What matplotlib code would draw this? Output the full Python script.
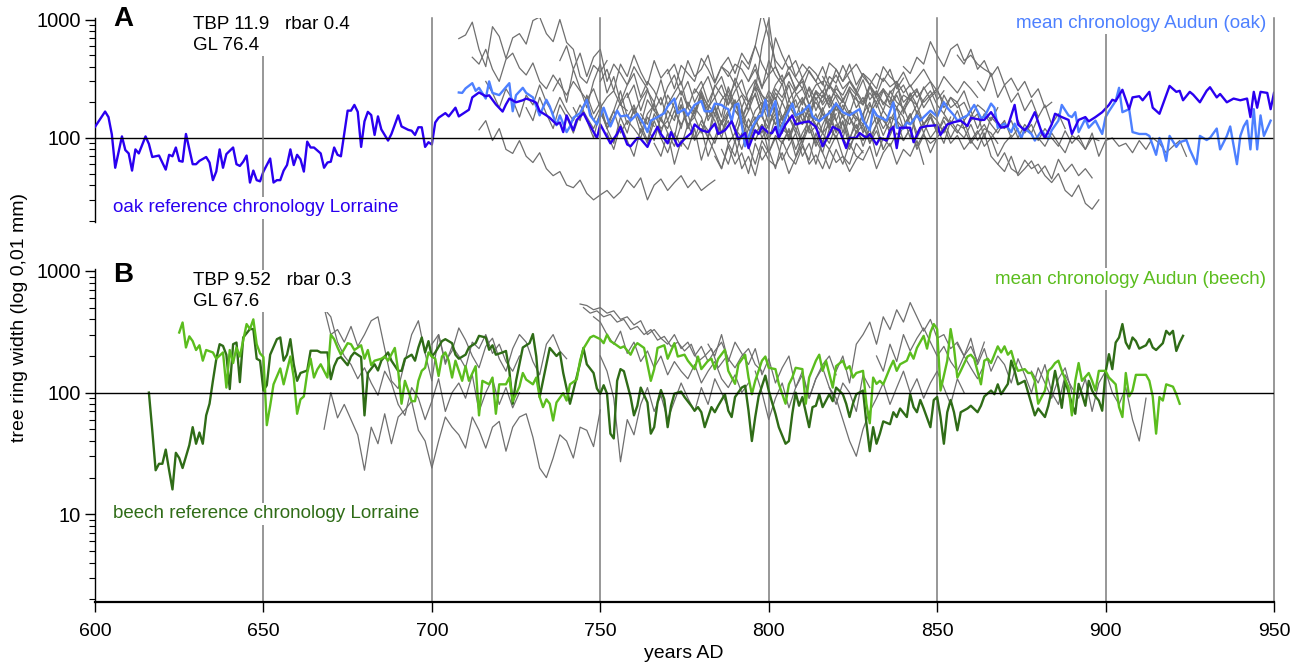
import numpy as np
import matplotlib
matplotlib.use('Agg')
import matplotlib.pyplot as plt
from matplotlib.transforms import blended_transform_factory

plt.rcParams['font.family'] = ['Liberation Sans', 'DejaVu Sans']

#Oak reference chronology Lorraine (panel A)
oak_ref_years = [600,603,604,605,606,608,609,610,611,612,613,615,616,617,619,621,622,623,624,625,626,627,629,630,631,633,634,635,636,637,638,639,641,642,643,644,645,646,647,648,649,650,652,653,654,655,656,657,658,659,660,661,662,663,664,665,667,668,669,670,671,672,673,675,676,677,678,679,680,681,682,683,684,685,687,688,690,691,693,694,695,696,697,698,699,700,701,702,704,705,707,708,711,712,714,716,717,719,721,722,723,725,727,728,730,731,732,734,735,737,738,739,740,742,743,745,746,749,750,753,755,756,758,759,761,762,764,765,767,768,770,771,773,775,777,778,780,782,784,785,787,789,790,791,793,794,796,797,798,800,801,802,803,805,807,808,810,812,814,816,818,819,821,823,824,826,827,829,830,832,833,835,836,837,838,839,842,843,845,847,850,851,853,855,857,859,860,863,864,866,869,871,873,874,876,877,879,881,882,884,885,887,889,890,892,894,895,897,899,901,902,903,905,907,908,910,911,913,914,916,918,919,921,922,923,925,926,928,930,931,933,934,936,938,940,942,943,944,945,946,948,949,950]
oak_ref_vals = [124,167,150,107,56,103,79,74,53,80,74,103,89,69,71,54,72,70,83,64,63,108,60,60,64,69,62,44,52,80,56,73,83,60,58,63,71,42,53,44,43,52,67,42,44,44,53,59,80,59,72,66,52,93,83,83,74,56,62,63,83,72,70,170,170,190,166,84,138,166,156,106,152,118,95,108,155,125,117,115,106,123,123,84,92,88,135,148,162,152,180,152,173,220,242,225,229,192,167,192,215,200,208,215,205,198,168,155,148,130,135,112,155,116,142,162,142,100,130,90,108,124,88,85,100,98,84,98,124,108,90,112,85,98,110,130,116,112,132,108,116,138,116,98,110,82,116,108,124,110,110,124,100,130,155,130,135,138,124,85,108,124,116,82,100,100,110,100,108,88,100,95,116,124,82,122,122,92,122,126,128,106,130,136,140,126,148,142,142,165,122,126,190,130,116,126,165,112,100,130,160,150,142,108,142,150,138,150,165,190,210,205,255,175,220,225,208,245,180,160,230,275,245,250,208,245,232,200,250,268,220,235,200,215,208,215,150,245,180,245,240,175,240]

#Mean chronology Audun (oak)
oak_mean_years = [708,709,710,712,713,714,716,717,718,720,723,724,725,727,728,730,732,734,735,737,738,740,741,742,744,746,747,749,751,752,753,755,756,758,759,761,763,764,765,767,769,770,772,773,775,776,778,780,781,783,784,786,787,788,789,790,791,793,795,797,798,799,800,802,803,805,807,808,810,812,813,815,817,818,820,822,824,825,827,828,830,831,832,834,835,837,838,840,841,842,844,845,846,848,850,851,852,853,855,856,858,859,861,863,864,866,867,868,870,872,873,875,876,878,879,881,883,884,886,887,889,890,891,892,894,895,897,899,900,901,903,904,905,907,908,910,912,913,915,916,917,918,919,921,922,924,925,927,928,930,931,933,934,936,937,939,940,941,942,943,944,945,946,947,949]
oak_mean_vals = [242,240,262,290,250,265,215,300,240,230,290,168,230,265,240,220,155,210,185,128,155,112,125,148,162,210,155,130,180,150,125,170,152,155,140,160,130,112,140,150,162,185,215,162,175,155,190,205,168,168,195,190,180,175,138,190,195,85,122,152,155,210,152,205,108,148,195,155,165,190,152,138,155,162,195,165,155,162,175,140,116,175,155,145,140,200,122,120,135,130,155,140,150,170,152,175,200,180,155,140,150,155,190,148,150,195,180,122,132,112,132,100,120,108,95,115,98,116,140,190,155,150,165,112,145,122,140,108,150,168,205,265,165,175,112,108,108,104,72,100,84,64,104,84,92,96,80,60,104,96,100,120,80,104,125,60,104,125,140,80,175,80,155,104,140]

#Beech reference chronology Lorraine (panel B)
beech_ref_years = [616,617,618,619,620,621,622,623,624,625,626,628,629,630,631,632,633,634,635,636,637,638,639,640,641,642,643,644,646,647,648,649,650,651,652,654,655,656,657,658,659,660,661,663,664,666,667,669,670,671,672,673,675,676,677,679,680,681,683,684,685,687,688,690,691,692,694,695,696,697,698,699,700,701,703,704,706,707,708,710,711,713,714,716,717,718,719,721,722,723,724,725,726,727,729,730,731,732,733,734,735,737,738,739,741,742,744,745,746,748,749,750,751,752,753,754,755,756,757,759,760,761,762,764,765,766,767,768,769,770,771,772,774,775,777,778,779,780,781,783,784,785,787,788,789,790,792,793,794,795,796,797,799,800,801,802,803,805,806,807,808,809,810,812,813,814,815,816,818,819,820,822,823,824,825,826,828,829,830,831,832,833,834,836,837,838,839,841,842,843,844,845,846,848,849,850,851,852,853,854,855,856,857,859,860,862,863,864,866,867,868,869,871,872,873,874,876,878,879,880,882,883,884,885,886,887,888,890,891,892,893,894,895,896,897,898,899,900,901,902,903,904,905,906,907,908,909,910,912,913,914,915,917,918,919,920,921,922,923]
beech_ref_vals = [100,49,23,26,26,34,23,16,32,29,24,37,52,38,47,38,65,81,125,188,250,242,205,107,250,258,122,284,333,333,190,183,104,115,205,275,284,183,205,275,171,125,145,152,221,221,214,214,129,165,190,196,168,198,214,196,65,145,171,152,183,214,183,151,151,190,205,183,235,284,214,265,198,214,265,275,255,205,190,205,235,255,293,284,225,245,205,214,220,151,81,125,171,235,255,303,198,92,125,171,233,200,214,145,81,104,175,233,171,145,108,98,115,98,46,42,125,156,150,92,65,78,110,83,46,52,83,105,88,52,78,98,102,92,78,71,76,69,52,76,69,78,97,71,63,92,110,114,71,40,63,93,138,104,83,67,52,38,40,67,100,78,92,52,76,78,97,76,97,85,110,97,81,63,81,97,104,56,33,52,38,46,58,55,69,63,74,63,97,76,69,87,74,52,87,92,63,38,69,87,69,49,69,74,78,69,78,93,104,97,117,97,118,183,151,117,125,81,65,74,63,78,105,151,110,75,125,81,67,118,97,78,125,104,93,86,71,147,207,156,258,284,366,258,230,284,265,230,245,275,235,224,255,322,300,322,220,258,293]

#Mean chronology Audun (beech)
beech_mean_years = [625,626,627,628,629,630,631,632,633,635,636,638,639,640,641,642,643,645,646,647,648,649,650,651,652,653,655,656,657,658,659,660,661,662,663,664,665,666,667,669,670,671,672,673,675,676,677,679,680,681,682,683,685,686,687,689,690,691,692,693,694,695,696,697,698,699,700,701,702,703,704,705,706,707,709,710,711,713,714,715,717,718,719,720,722,723,724,726,727,728,730,731,732,733,734,735,736,737,739,740,741,743,744,745,747,748,750,751,752,753,754,756,757,759,760,761,763,765,766,767,769,770,772,773,775,776,778,779,780,782,783,784,785,787,788,790,791,793,794,795,796,798,799,800,802,803,805,806,807,808,810,811,812,814,815,816,817,819,820,822,823,824,825,826,828,829,830,831,832,833,834,836,837,838,839,841,842,843,844,846,847,848,849,850,851,853,854,855,856,857,859,860,861,863,864,865,866,868,869,870,871,872,873,874,876,877,878,879,880,882,883,884,885,886,887,889,890,891,892,893,895,896,897,898,900,901,902,903,904,905,906,907,908,909,911,912,913,914,915,916,917,918,920,921,922]
beech_mean_vals = [312,377,235,290,265,224,245,183,224,214,190,214,110,224,175,235,198,366,333,400,250,210,196,54,78,117,158,117,152,198,133,67,88,93,145,190,133,155,171,133,300,275,235,205,255,250,224,245,190,224,168,183,190,198,183,233,151,81,125,104,85,85,125,151,160,214,198,190,137,198,214,183,133,183,125,165,125,165,65,125,117,133,67,117,117,133,85,112,145,128,117,133,92,76,88,81,59,83,99,86,117,128,183,230,284,293,275,255,300,265,255,233,240,205,235,255,233,125,156,233,245,190,255,198,205,183,156,198,156,183,190,156,190,225,151,118,171,205,133,97,125,183,198,160,156,118,81,117,133,160,156,81,133,183,205,151,183,110,165,183,156,165,133,145,151,81,56,133,118,125,117,160,183,151,171,183,214,190,233,293,230,312,366,333,104,183,333,233,133,151,198,205,190,117,183,190,175,240,214,240,205,220,175,151,156,145,145,125,81,104,151,160,175,183,151,110,65,125,175,125,145,125,104,151,151,133,125,117,76,63,145,93,104,140,140,140,125,93,46,92,86,117,112,97,81]

#Individual oak series Audun (grey, panel A): start year, 2-year steps
oak_s01 = (708, [690,740,950,560,400,870,720,470,700,760,620,980,1050,760,650,1000,640,560,330,290,410,360,450])
oak_s02 = (712, [480,420,560,380,300,460,520,390,340,430,300,260,340,280,230,300,250,210,260,180,220,250,190,170])
oak_s03 = (714, [117,140,95,120,80,74,95,70,62,75,55,48,52,40,38,44,34,30,33,36,31,35,44,38,46,30,40,45,36,42,48,38,44,36,40,44])
oak_s04 = (716, [300,240,180,260,210,150,230,190,280,200,160,220,170,140,190,150,120,160,130,170,110,140,120,100,150,125])
oak_s05 = (728, [180,140,220,160,120,190,150,110,160,210,140,180,120,150,200,130,170,110,160,190,140,120,170,130])
oak_s06 = (736, [250,320,200,380,260,180,300,420,240,330,200,280,350,220,300,250,190,270,340,230,300,200,260,330,220,280,190,250,310,200,270,230,180,260,220,300,240,190,270,210,250,180,230,200])
oak_s07 = (742, [180,140,230,160,200,120,170,250,150,190,130,210,170,140,230,180,120,200,160,240,150,180,130,220,170,150,200,140,180,230,160,130,190,150,210,170,140,180,120,160])
oak_s08 = (746, [140,100,170,120,90,150,110,180,130,95,160,120,140,100,190,130,150,110,170,140,100,160,120,180,90,140,110,170,130,150,100,140,160,120,90,130,170,110,140,95,150,120,100,130,80])
oak_s09 = (750, [300,380,250,420,330,500,360,280,450,320,380,260,410,350,300,470,380,290,400,330,420,380,300,420,270,340,400,300,360,250,320])
oak_s10 = (752, [110,80,130,95,70,120,90,140,100,75,110,85,130,95,120,70,100,140,90,110,80,120,95,130,75,105,90,115,70,100,125,85,110,90,130,100,80,115,95,120,70,100,85,110,95,120,80,105,90,100])
oak_s11 = (758, [220,280,170,250,200,310,190,240,300,180,260,220,170,280,230,190,320,240,200,270,180,250,210,290,170,230,260,190,240,200,280,220,170,250,210,190,240,200,260,220,180,230,210,250])
oak_s12 = (762, [160,130,200,110,170,140,220,120,180,150,100,190,130,160,210,140,120,170,200,130,160,110,190,150,130,180,120,160,140,200,110,170,150,130,190,160,120,150,140,180,130,160,110,150,120])
oak_s13 = (766, [90,70,110,60,95,80,120,65,100,75,55,90,70,110,85,60,95,75,100,65,85,110,70,90,60,95,80,105,70,60,90,75])
oak_s14 = (770, [350,420,280,450,330,380,500,300,400,360,280,450,380,600,420,330,700,500,380,450,320,400,350,280,430,380,300,360,420,330,280,350,300,380,260,320])
oak_s15 = (776, [200,160,250,180,220,150,270,190,230,170,300,210,160,240,200,280,180,220,150,250,190,230,170,210,260,180,220,160,240,200,180,230,170,210,190])
oak_s16 = (780, [130,100,160,110,140,90,170,120,150,100,130,180,110,150,120,90,160,130,110,170,140,100,150,120,160,90,130,150,110,140,120,160,100,130,150,110,140,100,130,120,90,110,130,100,120,140])
oak_s17 = (784, [70,55,85,60,75,50,90,65,80,55,95,70,60,85,65,110,75,55,80,60,90,70,65,85,55,75,90,60,80,70,95,60])
oak_s18 = (786, [400,480,350,520,420,600,1150,700,450,380,500,330,420,360,300,400,280,340,260,300,240])
oak_s19 = (796, [250,600,1000,400,300,350,260,320,220,280,300,200,260,230,300,250,200,280,220,260,190,240,280,210,250,200,230,260,180,220,200,250,170])
oak_s20 = (800, [170,130,200,150,110,180,140,220,160,120,190,150,130,170,110,160,200,140,120,180,150,100,170,130,160,110,150,130,170,120,140,160,100,150,130,120,140,100,130,110,150])
oak_s21 = (840, [400,350,480,420,650,500,400,560,620,450,500,420,380,350])
oak_s22 = (852, [160,130,110,140,95,80,110,70,60,75,55,50,65,55,60,48,42,50,36,32,40,28,25,30])
oak_s23 = (868, [60,52,70,48,55,64,50,58,45,66,52,60,48,55,46])
oak_s24 = (880, [100,85,110,90,75,105,95,80,110,70,95,100,85,90,75,95,80,100,90,75,85,95,70])
oak_s25 = (826, [220,150,280,180,250,200,300,160,240,190,270,210,150,230,180,200,140,170,120,160,130,110,140,100,120])
oak_s26 = (856, [500,420,560,380,450,330,400,280,320,250,300,220,260,180,200])
oak_s27 = (862, [300,250,350,220,280,200,240,170,210,150,190,130,160,120])
oak_s28 = (874, [140,110,130,95,120,100,85,115,90,105,80,100,95])
oak_s29 = (738, [450,600,380,520,330,480,560,300,420,350,280,400,320,260])
oak_s30 = (772, [150,190,120,170,230,140,180,110,160,200,130,170,240,150,120,190,140,210,160,130,180,120,170,220,140,190,150,110,160,200,130,170,140,180,120,150,190,130,160,140,110,150])
oak_s31 = (778, [240,300,200,270,330,220,290,180,250,310,230,200,280,340,210,260,300,190,250,220,280,240,200,270,230,310,210,250,190,240,280,200,230,260,180,220,250,200])
oak_s32 = (790, [110,140,90,130,160,100,120,150,95,135,170,110,125,90,145,115,160,100,130,85,120,150,105,140,95,125,160,110,135,100,120,90,140,115,100,130,95,120,110,90])
oak_s33 = (794, [300,380,260,450,340,280,400,320,260,370,300,240,330,290,410,310,250,350,280,230,320,270,300,240,280,220,260,300,210,250])
oak_s34 = (756, [190,240,160,210,260,170,220,140,200,250,180,150,230,190,160,210,250,170,140,200,230,160,190,220,150,180,210,140,170,200,160,130,190,150,170,140])
oak_s35 = (804, [90,120,80,110,140,95,75,120,100,135,85,110,130,90,115,80,105,140,95,120,85,110,75,100,125,90,105,80,95,115,85,100,70,90,105])
oak_s36 = (810, [200,260,170,230,190,280,210,160,240,190,270,220,170,250,200,180,230,160,210,250,190,160,220,180,200,150,190,170,140,180])
oak_s37 = (764, [120,95,150,110,85,130,160,100,140,115,90,135,170,120,100,145,110,130,95,150,120,105,140,90,125,160,110,130,100])
oak_s38 = (816, [330,260,380,300,420,280,350,310,260,400,330,290,360,270,320,380,300,250,330,280,240,300,260,220])
oak_s39 = (786, [80,60,95,55,70,48,85,65,58,75,50,68,90,60,72,55,80,62,70,52,66,78])

#Individual beech series Audun (grey, panel B)
beech_s01 = (668, [500,300,330,260,350,240,300,390,420,230,125,108,180,300,390,210,125,300,171,240,200,160,260,230,300,210,250,180,150,200])
beech_s02 = (668, [50,100,62,80,60,45,23,52,38,67,38,63,72,85,49,40,24,40,63,52,45,35,63,49,35,52,58,33,52,63,67,43,24,20,29,45,40,29,52,49,36,72])
beech_s03 = (668, [490,420,260,200,170,130,160,120,95,150,120,80,65,110,90,60,85,130,70,100,120,90,140,70,100,130,80,110,75,100])
beech_s04 = (700, [250,300,180,220,340,270,200,160,240,280,190,150,230,300,260,180,140,250,300,220,190])
beech_s05 = (744, [535,520,480,500,450,470,400,420,360,390,300,330,280,250,300,230,260,200,240,180,220,260,190,160,200,230,170,150])
beech_s06 = (745, [500,450,470,420,440,380,400,330,350,300,330,270,290,240,260,220,250,180,200,230,160,190])
beech_s07 = (748, [420,380,300,250,320,210,260,180,220,160,200,140,180,150,130,170,120,150,180,130,110,140,100,120])
beech_s08 = (750, [200,150,90,27,60,45,80,110,70,95,60,85,120,90,70,110,80,130,100,75])
beech_s09 = (782, [250,200,300,180,260,210,170,230,140,190,120,160,200,110,150,90,130,170,200,140])
beech_s10 = (796, [150,100,60,90,120,75,110,140,90,130,160,110,80,120,100,70,140,110])
beech_s11 = (820, [150,200,120,250,300,380,250,420,330,480,380,550,420,320,400,280,300,230,260,200,240,180,260])
beech_s12 = (818, [110,90,60,40,30,50,70,90,120,80,110,150,100,130,90,120,150,110,80,130,100])
beech_s13 = (832, [200,150,250,180,300,220,280,340,260,200,240,180,150,200,160,130,170])
beech_s14 = (856, [250,200,280,170,230,150,200,170,120,190,140,100,160,120,90,130,160,100])
beech_s15 = (878, [150,120,170,100,80,140,110,90,130,70,120,150,100,80,110,60,40,90])

oak_grey = [oak_s01, oak_s02, oak_s03, oak_s04, oak_s05, oak_s06, oak_s07, oak_s08, oak_s09, oak_s10,
            oak_s11, oak_s12, oak_s13, oak_s14, oak_s15, oak_s16, oak_s17, oak_s18, oak_s19, oak_s20,
            oak_s21, oak_s22, oak_s23, oak_s24, oak_s25, oak_s26, oak_s27, oak_s28, oak_s29, oak_s30,
            oak_s31, oak_s32, oak_s33, oak_s34, oak_s35, oak_s36, oak_s37, oak_s38, oak_s39]
beech_grey = [beech_s01, beech_s02, beech_s03, beech_s04, beech_s05, beech_s06, beech_s07, beech_s08,
              beech_s09, beech_s10, beech_s11, beech_s12, beech_s13, beech_s14, beech_s15]

grid_years = [650, 700, 750, 800, 850, 900, 950]

#Colours
c_grey = '#6f6f6f'
c_oak_ref = '#2a00f0'
c_oak_mean = '#4d80ff'
c_beech_ref = '#2f6c17'
c_beech_mean = '#5bbd1e'

W, H = 1304, 665
fig = plt.figure(figsize=(W/100, H/100), dpi=100)

x0, x1 = 95/W, 1274/W
axA = fig.add_axes([x0, 1-222/H, x1-x0, (222-18)/H])
axB = fig.add_axes([x0, 1-602/H, x1-x0, (602-269)/H])

def draw_grey(ax, series):
    for start, vals in series:
        yrs = start + 2*np.arange(len(vals))
        ax.plot(yrs, vals, color=c_grey, lw=0.9, zorder=2)

draw_grey(axA, oak_grey)
axA.plot(oak_mean_years, oak_mean_vals, color=c_oak_mean, lw=1.7, zorder=3)
axA.plot(oak_ref_years, oak_ref_vals, color=c_oak_ref, lw=1.7, zorder=4)

draw_grey(axB, beech_grey)
axB.plot(beech_ref_years, beech_ref_vals, color=c_beech_ref, lw=1.7, zorder=3)
axB.plot(beech_mean_years, beech_mean_vals, color=c_beech_mean, lw=1.7, zorder=4)

for ax, lo, hi in [(axA, 19.5, 1030), (axB, 1.9, 1038)]:
    ax.set_yscale('log')
    ax.set_xlim(600, 950)
    ax.set_ylim(lo, hi)
    ax.axhline(100, color='black', lw=1.0, zorder=5)
    for s in ['top', 'right']:
        ax.spines[s].set_visible(False)
    ax.spines['left'].set_linewidth(1.0)
    ax.tick_params(axis='y', which='major', direction='out', length=7, width=1, labelsize=14.5, pad=3)
    ax.tick_params(axis='y', which='minor', direction='out', length=4, width=0.8)
    ax.yaxis.set_major_formatter(plt.FuncFormatter(lambda v, p: '%d' % v))
    ax.yaxis.set_minor_formatter(plt.NullFormatter())
    ax.patch.set_alpha(0)

axA.spines['bottom'].set_visible(False)
axA.tick_params(axis='x', which='both', bottom=False, labelbottom=False)
axA.set_yticks([100, 1000])
axB.set_yticks([10, 100, 1000])
axB.spines['bottom'].set_linewidth(1.6)
axB.set_xticks(range(600, 951, 50))
axB.tick_params(axis='x', direction='out', length=7, width=1, labelsize=14, pad=8)

#Vertical year lines over both panels
trans = blended_transform_factory(axB.transData, fig.transFigure)
for yr in grid_years:
    axB.plot([yr, yr], [1-602/H, 1-18/H], transform=trans, color='#7a7a7a', lw=1.1,
             clip_on=False, zorder=1)

box = dict(facecolor='white', edgecolor='none', pad=1.5)
fig.text(113/W, 1-19/H, 'A', fontsize=20, fontweight='bold', va='center', ha='left')
fig.text(113/W, 1-275/H, 'B', fontsize=20, fontweight='bold', va='center', ha='left')
fig.text(193/W, 1-35/H, 'TBP 11.9   rbar 0.4\nGL 76.4', fontsize=13.5, va='center', ha='left',
         linespacing=1.25, bbox=box, zorder=10)
fig.text(193/W, 1-291/H, 'TBP 9.52   rbar 0.3\nGL 67.6', fontsize=13.5, va='center', ha='left',
         linespacing=1.25, bbox=box, zorder=10)
fig.text(113/W, 1-208/H, 'oak reference chronology Lorraine', color=c_oak_ref, fontsize=13.5,
         va='center', ha='left', bbox=box, zorder=10)
fig.text(1266/W, 1-23/H, 'mean chronology Audun (oak)', color=c_oak_mean, fontsize=13.5,
         va='center', ha='right', bbox=box, zorder=10)
fig.text(113/W, 1-514/H, 'beech reference chronology Lorraine', color=c_beech_ref, fontsize=13.5,
         va='center', ha='left', bbox=box, zorder=10)
fig.text(1266/W, 1-279/H, 'mean chronology Audun (beech)', color=c_beech_mean, fontsize=13.5,
         va='center', ha='right', bbox=box, zorder=10)
fig.text(20/W, 1-318/H, 'tree ring width (log 0,01 mm)', fontsize=14, rotation=90,
         va='center', ha='center')
fig.text(684/W, 1-653/H, 'years AD', fontsize=14, va='center', ha='center')

plt.savefig('out.png', dpi=100)
